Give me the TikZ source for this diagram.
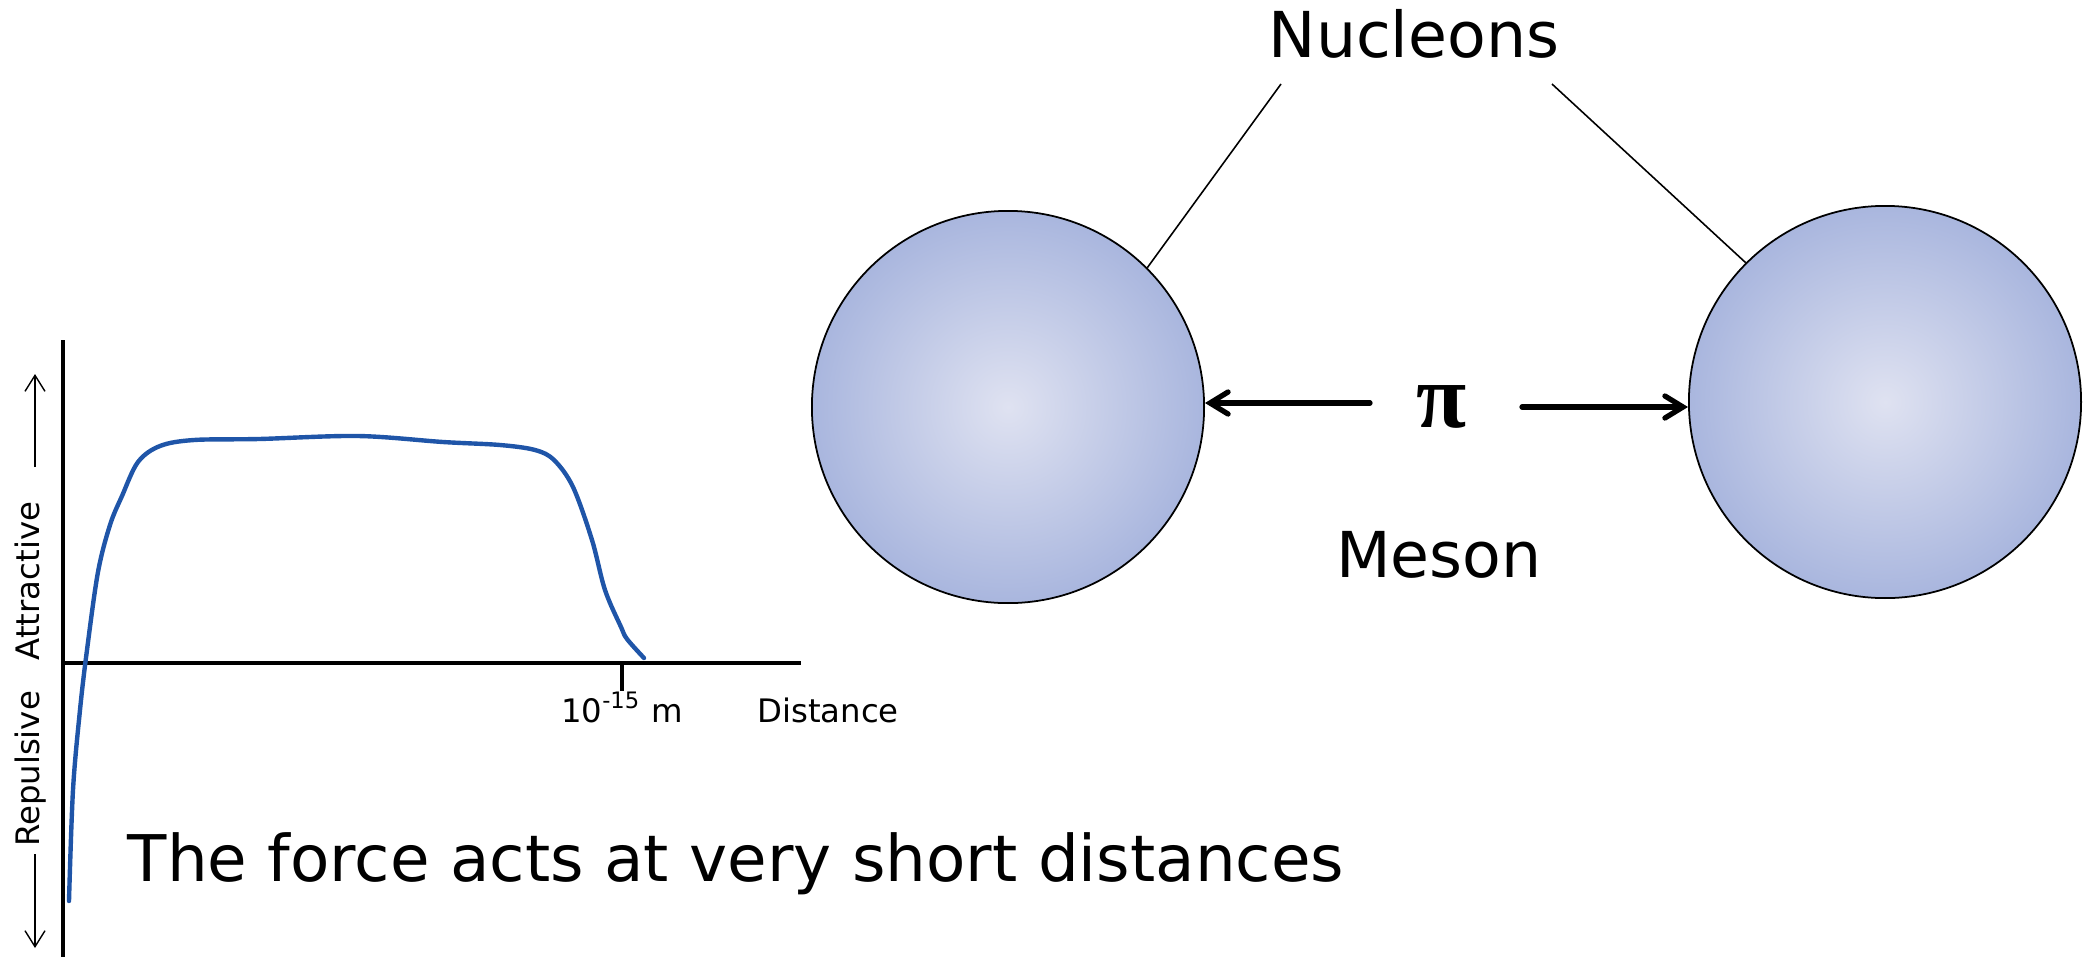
\documentclass[tikz,border=0pt]{standalone}
\usepackage{fontspec}
\setmainfont{DejaVu Sans}
\newfontfamily\pifont{Liberation Serif}
\usetikzlibrary{arrows.meta}
\definecolor{curveblue}{HTML}{1F55A8}
\definecolor{nucin}{HTML}{DFE2F1}
\definecolor{nucout}{HTML}{A9B6DE}

\begin{document}
\begin{tikzpicture}[
    x=0.01cm, y=-0.01cm,
    every node/.style={font=\fontsize{18}{22}\selectfont,text=black,inner sep=0pt},
    small/.style={font=\fontsize{9.2}{11}\selectfont},
    axis/.style={draw=black, line width=1.3pt},
    forcecurve/.style={draw=curveblue, line width=1.25pt, line cap=round},
    nucleon/.style={circle, draw=black, line width=0.5pt, minimum size=3.92cm,
                    inner color=nucin, outer color=nucout},
    pointer/.style={draw=black, line width=0.45pt},
    exchange/.style={draw=black, line width=1.5pt, line cap=round,
                     -{Straight Barb[length=1.8mm,width=2.2mm,line cap=round]}},
    dirarrow/.style={draw=black, line width=0.4pt,
                     -{Straight Barb[length=1.6mm,width=2mm]}}
  ]
  \useasboundingbox (0,0) rectangle (2093,957);

  %--------------------------------------
  % 1) Force graph: axes and tick
  %--------------------------------------
  \coordinate (O) at (63,663);
  \coordinate (Ytop) at (63,340);
  \coordinate (Ybot) at (63,957);
  \coordinate (Xend) at (801,663);
  \coordinate (Tick) at (622,663);
  \draw[axis] (Ytop) -- (Ybot);
  \draw[axis] (O) -- (Xend);
  \draw[axis] (Tick) -- ++(0,28);

  % axis labels
  \node[small, anchor=base] (range) at (622,722) {10\textsuperscript{-15} m};
  \node[small, anchor=base] (dist) at (828,722) {Distance};
  \node[small, rotate=90, anchor=base] (attr) at (40,581) {Attractive};
  \node[small, rotate=90, anchor=base] (rep) at (40,769) {Repulsive};

  % direction arrows beside the labels
  \coordinate (AttrA) at (35,467);
  \coordinate (AttrB) at (35,374);
  \coordinate (RepA) at (35,854);
  \coordinate (RepB) at (35,948);
  \draw[dirarrow] (AttrA) -- (AttrB);
  \draw[dirarrow] (RepA) -- (RepB);

  %--------------------------------------
  % 2) Strong force curve
  %--------------------------------------
  \draw[forcecurve] plot[smooth, tension=0.55] coordinates {
    (69,901) (73,790) (80,710) (87,650) (98,572) (110,525) (122,496)
    (138,462) (160,446) (194,440) (259,439) (358,436) (443,442)
    (500,445) (535,450) (554,460) (573,487) (592,540) (605,590)
    (621,627) (627,639) (644,658)};

  \node[anchor=base west, font=\fontsize{18.3}{22}\selectfont] (caption) at (127,881)
    {The force acts at very short distances};

  %--------------------------------------
  % 3) Two nucleons exchanging a meson
  %--------------------------------------
  \node[nucleon] (nucL) at (1008,407) {};
  \node[nucleon] (nucR) at (1885,402) {};

  \node[anchor=base] (nucleons) at (1414,57) {Nucleons};
  \coordinate (ptL) at (1281,84);
  \coordinate (ptR) at (1552,84);
  \draw[pointer] (ptL) -- (nucL.45);
  \draw[pointer] (ptR) -- (nucR.135);

  \node (pion) at (1442,407) {\pifont\bfseries\fontsize{26}{28}\selectfont π};
  \node[anchor=base] (meson) at (1439,577) {Meson};

  % exchange arrows
  \coordinate (piL) at (1370,403);
  \coordinate (piR) at (1522,407);
  \draw[exchange] (piL) -- (piL -| nucL.east);
  \draw[exchange] (piR) -- (piR -| nucR.west);

\end{tikzpicture}
\end{document}
